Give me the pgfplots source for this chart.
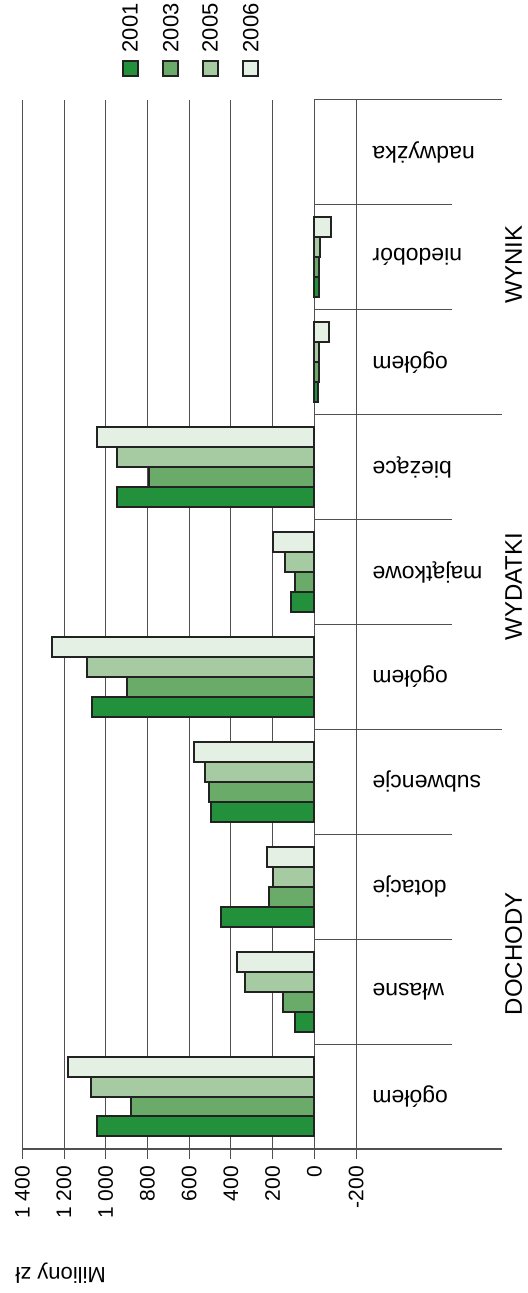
\documentclass[border=0pt]{standalone}
\usepackage{fontspec}
\setmainfont{Liberation Sans}
\usepackage{pgfplots}
\usepackage{pgfplotstable}
\pgfplotsset{compat=1.18}

\definecolor{c01}{HTML}{23913B}
\definecolor{c03}{HTML}{6AAB6A}
\definecolor{c05}{HTML}{A6CBA3}
\definecolor{c06}{HTML}{E3F0E3}
\definecolor{edge}{HTML}{222222}
\definecolor{gridc}{HTML}{505050}

% kategorie od dolu: 0 ogolem(D) 1 wlasne 2 dotacje 3 subwencje 4 ogolem(W) 5 majatkowe 6 biezace 7 ogolem(WYNIK) 8 niedobor
\pgfplotstableread{
cat v01  v03  v05  v06
0   1044 881  1073 1180
1   94   152  334  373
2   449  217  200  229
3   497  507  526  576
4   1064 900  1092 1257
5   114  94   142  200
6   948  793  948  1044
7   -18  -20  -22  -69
8   -20  -22  -27  -78
}\dane

\begin{document}
\begin{tikzpicture}
\begin{axis}[
  anchor=south west, at={(0,0)},
  scale only axis, width=239.9pt, height=524.5pt,
  xbar, bar width=0.19,
  x dir=reverse, xmin=-900, xmax=1400, ymin=-0.5, ymax=9.5,
  axis x line*=bottom, axis y line=none,
  xtick={-200,0,...,1400},
  xticklabels={-200,0,200,400,600,800,1 000,1 200,1 400},
  xticklabel style={rotate=90, anchor=east, font=\fontsize{10.5}{12}\selectfont},
  tick align=outside, major tick length=5pt,
  tick style={gridc, line width=0.5pt},
  xmajorgrids, grid style={gridc, line width=0.5pt},
  axis line style={gridc, line width=0.6pt},
  clip=false,
]
\addplot[fill=c01, draw=edge, line width=1pt, bar shift=-0.285] table[x=v01, y=cat] {\dane};
\addplot[fill=c03, draw=edge, line width=1pt, bar shift=-0.095] table[x=v03, y=cat] {\dane};
\addplot[fill=c05, draw=edge, line width=1pt, bar shift=0.095]  table[x=v05, y=cat] {\dane};
\addplot[fill=c06, draw=edge, line width=1pt, bar shift=0.285]  table[x=v06, y=cat] {\dane};

% linie podzialu kategorii
\pgfplotsinvokeforeach{0.5,1.5,2.5,4.5,5.5,7.5,8.5}{
  \draw[gridc, line width=0.5pt] (axis cs:0,#1) -- (axis cs:-660,#1);
}
\pgfplotsinvokeforeach{3.5,6.5,9.5}{
  \draw[gridc, line width=0.5pt] (axis cs:0,#1) -- (axis cs:-900,#1);
}

% etykiety kategorii (do gory nogami)
\tikzset{kat/.style={rotate=180, anchor=east, inner sep=0pt, font=\fontsize{11.5}{13}\selectfont}}
\node[kat] at (axis cs:-277,0) {ogółem};
\node[kat] at (axis cs:-277,1) {własne};
\node[kat] at (axis cs:-277,2) {dotacje};
\node[kat] at (axis cs:-277,3) {subwencje};
\node[kat] at (axis cs:-277,4) {ogółem};
\node[kat] at (axis cs:-277,5) {majątkowe};
\node[kat] at (axis cs:-277,6) {bieżące};
\node[kat] at (axis cs:-277,7) {ogółem};
\node[kat] at (axis cs:-277,8) {niedobór};
\node[kat] at (axis cs:-277,9) {nadwyżka};

% grupy
\tikzset{grp/.style={rotate=90, inner sep=0pt, font=\fontsize{12}{14}\selectfont}}
\node[grp] at (axis cs:-955,1.36) {DOCHODY};
\node[grp] at (axis cs:-955,4.86) {WYDATKI};
\node[grp] at (axis cs:-955,7.93) {WYNIK};

% legenda
\tikzset{
  sq/.style={draw=edge, line width=1pt, minimum size=7.5pt, inner sep=0pt},
  lg/.style={rotate=90, anchor=west, inner sep=0pt, font=\fontsize{11}{13}\selectfont}
}
\node[sq, fill=c01] at (axis cs:883.5,9.796) {};
\node[sq, fill=c03] at (axis cs:688,9.796) {};
\node[sq, fill=c05] at (axis cs:500,9.796) {};
\node[sq, fill=c06] at (axis cs:305,9.796) {};
\node[lg] at (axis cs:883.5,9.95) {2001};
\node[lg] at (axis cs:688,9.95) {2003};
\node[lg] at (axis cs:500,9.95) {2005};
\node[lg] at (axis cs:305,9.95) {2006};

\node[rotate=180, anchor=east, inner sep=0pt, font=\fontsize{11}{13}\selectfont] at (axis cs:1435,-1.68) {Miliony zł};
\end{axis}
\pgfresetboundingbox
\path (-11.15pt,-72pt) rectangle (252.85pt,574.5pt);
\end{tikzpicture}
\end{document}
